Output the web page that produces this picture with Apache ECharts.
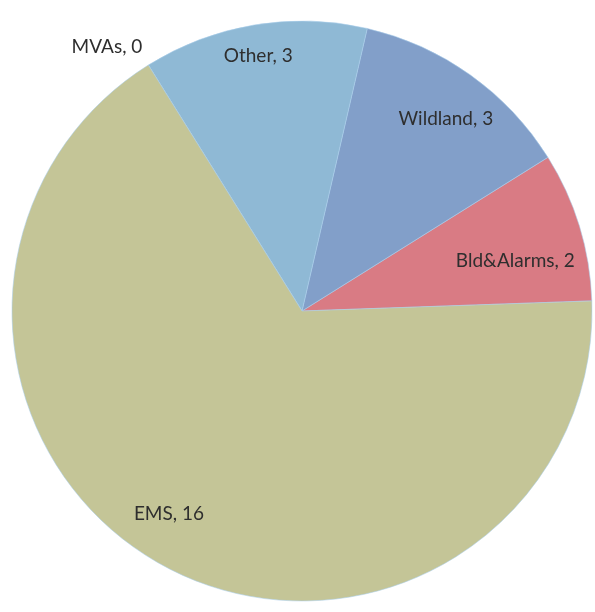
<!DOCTYPE html>
<html>
<head>
<meta charset="utf-8">
<title>Incidents by type</title>
<script src="https://cdn.jsdelivr.net/npm/echarts@6/dist/echarts.min.js"></script>
<style>
  html, body { margin: 0; padding: 0; background: #ffffff; }
  #chart { width: 595px; height: 612px; }
</style>
</head>
<body>
<div id="chart"></div>
<script>
// Incident counts by call type
const categories = ['Bld&Alarms', 'Wildland', 'Other', 'MVAs', 'EMS'];
const counts = [2, 3, 3, 0, 16];
const sliceColors = ['#d97b84', '#829fc9', '#8fb9d5', '#9bbf6a', '#c4c597'];

// small per-label nudges (px) so the text sits where it reads best
const labelNudge = [[-17, 20], [4, 4], [-4, -18], [7, -5], [-20, -10]];

const chart = echarts.init(document.getElementById('chart'));

const CENTER = [302, 311];
const RADIUS = 290;
const labelFont = {
  fontFamily: 'Lato, "Open Sans", sans-serif',
  fontSize: 19,
  color: '#2e2e2e'
};

const nudge = (p) => {
  const n = labelNudge[p.dataIndex] || [0, 0];
  return { dx: n[0], dy: n[1] };
};

const sliceData = categories.map((name, i) => ({
  name,
  value: counts[i],
  itemStyle: { color: sliceColors[i] },
  // zero-count categories get their label outside the rim
  label: counts[i] === 0
    ? { show: true, position: 'outside', ...labelFont }
    : { show: false }
}));

const labelData = categories.map((name, i) => ({
  name,
  value: counts[i],
  label: { show: counts[i] !== 0 }
}));

chart.setOption({
  backgroundColor: '#ffffff',
  animation: false,
  series: [
    {
      type: 'pie',
      center: CENTER,
      radius: RADIUS,
      clockwise: false,
      startAngle: 2,
      avoidLabelOverlap: false,
      itemStyle: { borderColor: 'rgba(170,205,235,0.55)', borderWidth: 1 },
      label: { formatter: '{b}, {c}' },
      labelLine: { show: false, length: 15, length2: 0 },
      labelLayout: nudge,
      emphasis: { disabled: true },
      data: sliceData
    },
    {
      // transparent ring that carries the in-slice labels near the rim
      type: 'pie',
      center: CENTER,
      radius: [RADIUS * 0.64, RADIUS],
      clockwise: false,
      startAngle: 2,
      silent: true,
      avoidLabelOverlap: false,
      itemStyle: { color: 'rgba(0,0,0,0)' },
      label: { position: 'inside', formatter: '{b}, {c}', ...labelFont },
      labelLine: { show: false },
      labelLayout: nudge,
      emphasis: { disabled: true },
      data: labelData
    }
  ]
});
</script>
</body>
</html>
